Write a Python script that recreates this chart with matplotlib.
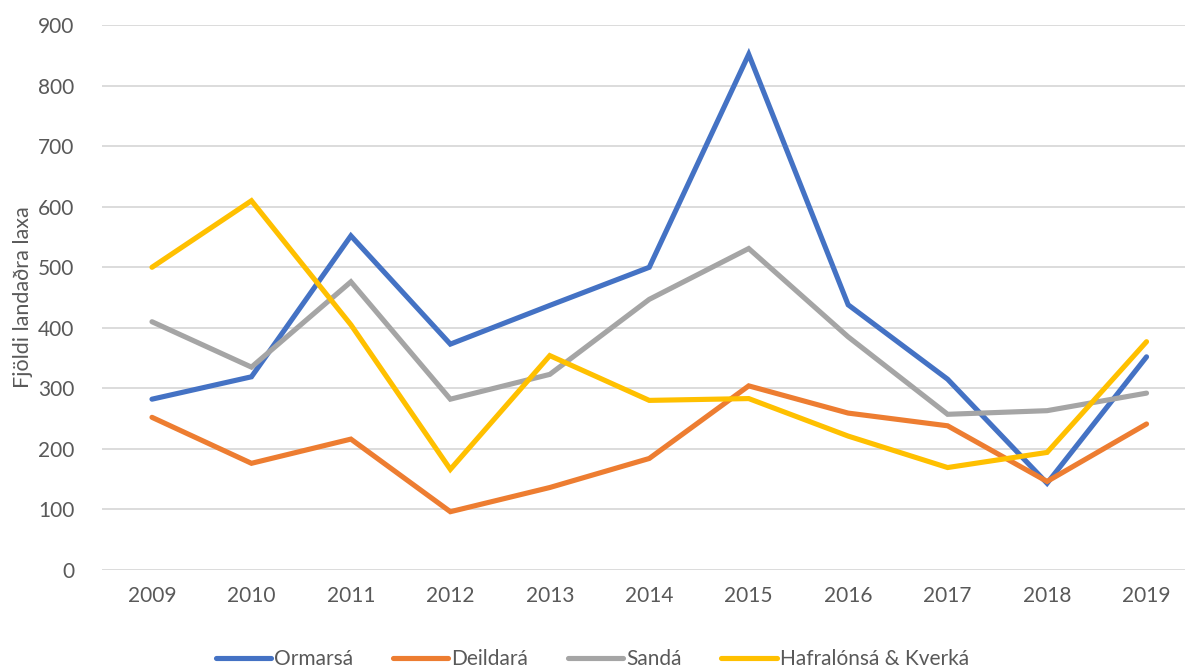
import matplotlib
matplotlib.use("Agg")
import matplotlib.pyplot as plt

years = [2009, 2010, 2011, 2012, 2013, 2014, 2015, 2016, 2017, 2018, 2019]
ormarsa = [282, 319, 552, 373, 437, 500, 852, 438, 315, 143, 352]
deildara = [252, 176, 216, 96, 136, 184, 304, 259, 238, 146, 241]
sanda = [410, 335, 476, 282, 323, 447, 531, 385, 257, 263, 292]
hafralonsa = [500, 610, 405, 166, 354, 280, 283, 221, 169, 194, 377]

series_names = ["Ormarsá", "Deildará", "Sandá", "Hafralónsá & Kverká"]
series_values = [ormarsa, deildara, sanda, hafralonsa]
colors = ["#4472C4", "#ED7D31", "#A5A5A5", "#FFC000"]
yticks = [0, 100, 200, 300, 400, 500, 600, 700, 800, 900]
ylabel = "Fjöldi landaðra laxa"

plt.rcParams['font.family'] = ['Lato', 'DejaVu Sans']

fig = plt.figure(figsize=(11.85, 6.69), dpi=100)
ax = fig.add_axes([0.0863, 0.1483, 0.9232, 0.8139])

x = list(range(len(years)))
for name, vals, c in zip(series_names, series_values, colors):
    ax.plot(x, vals, color=c, lw=3.7, label=name, solid_capstyle='round',
            solid_joinstyle='miter')

ax.set_xlim(-0.5, len(years) - 0.5)
ax.set_ylim(0, 900)
ax.set_yticks(yticks)
ax.set_xticks(x)
ax.set_xticklabels([str(y) for y in years])
ax.grid(axis='y', color='#D9D9D9', lw=1.3)
ax.set_axisbelow(True)
for s in ax.spines.values():
    s.set_visible(False)
ax.tick_params(axis='both', length=0, labelsize=15, colors='#595959')
ax.tick_params(axis='y', pad=20)
ax.tick_params(axis='x', pad=12)
ax.set_ylabel(ylabel, fontsize=15.5, color='#595959', labelpad=4)

fig.legend(loc='center', bbox_to_anchor=(0.5, 0.015), ncol=4, frameon=False,
           fontsize=15, handlelength=2.65, handletextpad=0.15,
           columnspacing=1.9, labelcolor='#595959')

fig.savefig("out.png", dpi=100)
